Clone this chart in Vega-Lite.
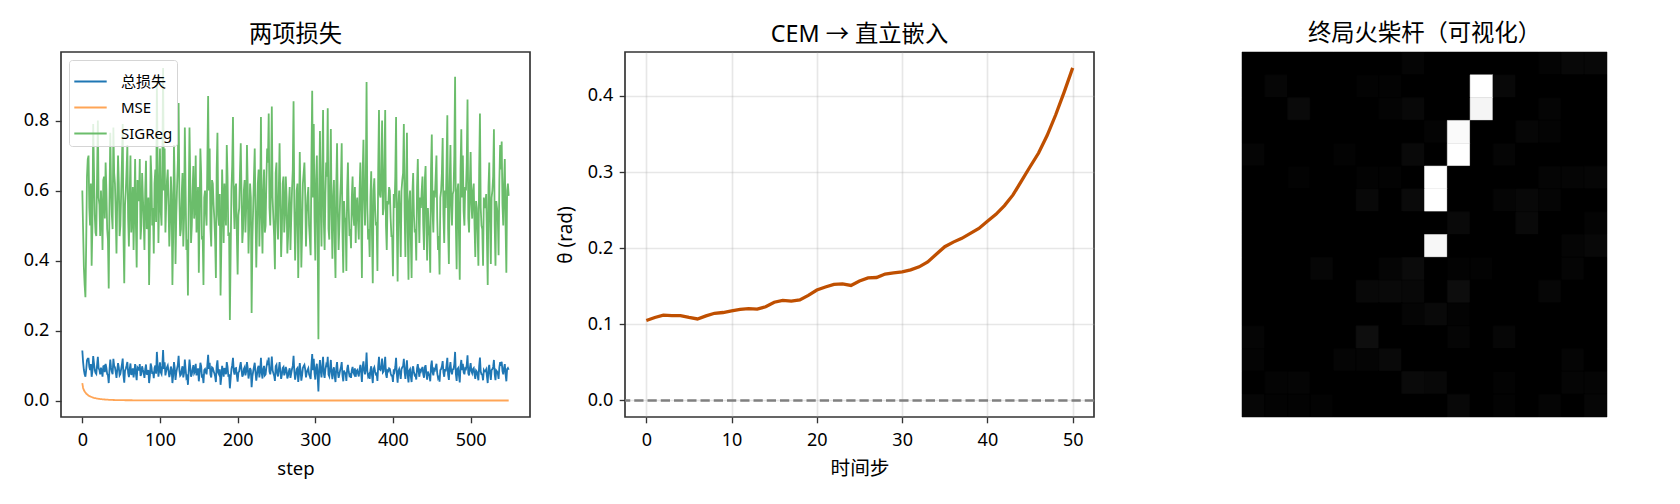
{
"$schema":"https://vega.github.io/schema/vega-lite/v6.json",
"background":"white",
"padding":{"left":22,"top":21,"right":73,"bottom":20},
"config":{
"font":"'Noto Sans','Noto Sans CJK SC',sans-serif",
"view":{"stroke":"#333333","strokeWidth":1.67},
"title":{"fontSize":23.3,"fontWeight":"normal","color":"#000000","offset":5},
"axis":{"grid":false,"domain":false,"labelFontSize":18,"titleFontSize":18.5,"titleFontWeight":"normal","labelColor":"#000000","titleColor":"#000000","tickColor":"#333333","tickSize":5.8,"tickWidth":1.33,"labelPadding":6.5,"labelFlush":false,"labelOverlap":false}
},
"spacing":144,
"hconcat":[
{"bounds":"flush","spacing":95,"hconcat":[
{"width":469,"height":365,"title":"两项损失",
"data":{"values":[
{"step":0,"total":0.143,"mse":0.05,"sig":0.6},{"step":2,"total":0.088,"mse":0.03,"sig":0.38},{"step":4,"total":0.068,"mse":0.023,"sig":0.295},{"step":6,"total":0.115,"mse":0.018,"sig":0.64},{"step":8,"total":0.12,"mse":0.014,"sig":0.7},{"step":10,"total":0.087,"mse":0.012,"sig":0.5},{"step":12,"total":0.068,"mse":0.01,"sig":0.385},{"step":14,"total":0.127,"mse":0.0085,"sig":0.79},{"step":16,"total":0.087,"mse":0.0072,"sig":0.53},{"step":18,"total":0.076,"mse":0.006,"sig":0.47},{"step":20,"total":0.125,"mse":0.0052,"sig":0.8},{"step":22,"total":0.088,"mse":0.0045,"sig":0.56},{"step":24,"total":0.094,"mse":0.004,"sig":0.6},{"step":26,"total":0.068,"mse":0.0036,"sig":0.43},{"step":28,"total":0.099,"mse":0.0032,"sig":0.64},{"step":30,"total":0.105,"mse":0.0028,"sig":0.68},{"step":32,"total":0.076,"mse":0.0025,"sig":0.49},{"step":34,"total":0.05,"mse":0.0022,"sig":0.32},{"step":36,"total":0.117,"mse":0.002,"sig":0.765},{"step":38,"total":0.082,"mse":0.0018,"sig":0.53},{"step":40,"total":0.119,"mse":0.0016,"sig":0.78},{"step":42,"total":0.095,"mse":0.0015,"sig":0.62},{"step":44,"total":0.065,"mse":0.0014,"sig":0.42},{"step":46,"total":0.107,"mse":0.0013,"sig":0.7},{"step":48,"total":0.072,"mse":0.0012,"sig":0.47},{"step":50,"total":0.09,"mse":0.0011,"sig":0.59},{"step":52,"total":0.12,"mse":0.001,"sig":0.79},{"step":54,"total":0.051,"mse":0.001,"sig":0.335},{"step":56,"total":0.091,"mse":0.0009,"sig":0.6},{"step":58,"total":0.11,"mse":0.0009,"sig":0.73},{"step":60,"total":0.067,"mse":0.0008,"sig":0.44},{"step":62,"total":0.106,"mse":0.0008,"sig":0.7},{"step":64,"total":0.079,"mse":0.0008,"sig":0.52},{"step":66,"total":0.066,"mse":0.0007,"sig":0.43},{"step":68,"total":0.104,"mse":0.0007,"sig":0.69},{"step":70,"total":0.058,"mse":0.0007,"sig":0.38},{"step":72,"total":0.092,"mse":0.0006,"sig":0.61},{"step":74,"total":0.104,"mse":0.0006,"sig":0.69},{"step":76,"total":0.076,"mse":0.0006,"sig":0.5},{"step":78,"total":0.088,"mse":0.0006,"sig":0.58},{"step":80,"total":0.065,"mse":0.0005,"sig":0.43},{"step":82,"total":0.103,"mse":0.0005,"sig":0.685},{"step":84,"total":0.079,"mse":0.0005,"sig":0.52},{"step":86,"total":0.05,"mse":0.0005,"sig":0.33},{"step":88,"total":0.106,"mse":0.0005,"sig":0.7},{"step":90,"total":0.076,"mse":0.0005,"sig":0.5},{"step":92,"total":0.064,"mse":0.0004,"sig":0.42},{"step":94,"total":0.1,"mse":0.0004,"sig":0.66},{"step":96,"total":0.139,"mse":0.0004,"sig":0.91},{"step":98,"total":0.068,"mse":0.0004,"sig":0.45},{"step":100,"total":0.109,"mse":0.0004,"sig":0.72},{"step":102,"total":0.076,"mse":0.0004,"sig":0.5},{"step":104,"total":0.144,"mse":0.0004,"sig":0.95},{"step":106,"total":0.109,"mse":0.0003,"sig":0.72},{"step":108,"total":0.085,"mse":0.0003,"sig":0.56},{"step":110,"total":0.1,"mse":0.0003,"sig":0.66},{"step":112,"total":0.067,"mse":0.0003,"sig":0.44},{"step":114,"total":0.097,"mse":0.0003,"sig":0.64},{"step":116,"total":0.05,"mse":0.0003,"sig":0.33},{"step":118,"total":0.11,"mse":0.0003,"sig":0.73},{"step":120,"total":0.059,"mse":0.0003,"sig":0.39},{"step":122,"total":0.092,"mse":0.0003,"sig":0.61},{"step":124,"total":0.128,"mse":0.0003,"sig":0.85},{"step":126,"total":0.071,"mse":0.0003,"sig":0.47},{"step":128,"total":0.089,"mse":0.0003,"sig":0.59},{"step":130,"total":0.066,"mse":0.0003,"sig":0.44},{"step":132,"total":0.117,"mse":0.0003,"sig":0.78},{"step":134,"total":0.065,"mse":0.0003,"sig":0.43},{"step":136,"total":0.045,"mse":0.0003,"sig":0.3},{"step":138,"total":0.117,"mse":0.0003,"sig":0.78},{"step":140,"total":0.068,"mse":0.0002,"sig":0.45},{"step":142,"total":0.09,"mse":0.0002,"sig":0.6},{"step":144,"total":0.078,"mse":0.0002,"sig":0.52},{"step":146,"total":0.105,"mse":0.0002,"sig":0.7},{"step":148,"total":0.083,"mse":0.0002,"sig":0.55},{"step":150,"total":0.055,"mse":0.0002,"sig":0.365},{"step":152,"total":0.108,"mse":0.0002,"sig":0.72},{"step":154,"total":0.069,"mse":0.0002,"sig":0.46},{"step":156,"total":0.05,"mse":0.0002,"sig":0.33},{"step":158,"total":0.09,"mse":0.0002,"sig":0.6},{"step":160,"total":0.075,"mse":0.0002,"sig":0.5},{"step":162,"total":0.131,"mse":0.0002,"sig":0.87},{"step":164,"total":0.108,"mse":0.0002,"sig":0.72},{"step":166,"total":0.066,"mse":0.0002,"sig":0.44},{"step":168,"total":0.093,"mse":0.0002,"sig":0.62},{"step":170,"total":0.078,"mse":0.0002,"sig":0.52},{"step":172,"total":0.053,"mse":0.0002,"sig":0.35},{"step":174,"total":0.115,"mse":0.0002,"sig":0.765},{"step":176,"total":0.075,"mse":0.0002,"sig":0.5},{"step":178,"total":0.045,"mse":0.0002,"sig":0.3},{"step":180,"total":0.099,"mse":0.0002,"sig":0.66},{"step":182,"total":0.068,"mse":0.0002,"sig":0.45},{"step":184,"total":0.084,"mse":0.0002,"sig":0.56},{"step":186,"total":0.11,"mse":0.0002,"sig":0.73},{"step":188,"total":0.071,"mse":0.0002,"sig":0.47},{"step":190,"total":0.035,"mse":0.0002,"sig":0.23},{"step":192,"total":0.09,"mse":0.0002,"sig":0.6},{"step":194,"total":0.122,"mse":0.0002,"sig":0.81},{"step":196,"total":0.074,"mse":0.0002,"sig":0.49},{"step":198,"total":0.093,"mse":0.0002,"sig":0.62},{"step":200,"total":0.054,"mse":0.0002,"sig":0.36},{"step":202,"total":0.083,"mse":0.0002,"sig":0.55},{"step":204,"total":0.11,"mse":0.0002,"sig":0.735},{"step":206,"total":0.068,"mse":0.0002,"sig":0.45},{"step":208,"total":0.09,"mse":0.0002,"sig":0.6},{"step":210,"total":0.072,"mse":0.0002,"sig":0.48},{"step":212,"total":0.11,"mse":0.0002,"sig":0.73},{"step":214,"total":0.063,"mse":0.0002,"sig":0.42},{"step":216,"total":0.093,"mse":0.0002,"sig":0.62},{"step":218,"total":0.038,"mse":0.0002,"sig":0.25},{"step":220,"total":0.083,"mse":0.0002,"sig":0.55},{"step":222,"total":0.108,"mse":0.0002,"sig":0.72},{"step":224,"total":0.057,"mse":0.0002,"sig":0.38},{"step":226,"total":0.093,"mse":0.0002,"sig":0.62},{"step":228,"total":0.066,"mse":0.0002,"sig":0.44},{"step":230,"total":0.122,"mse":0.0002,"sig":0.81},{"step":232,"total":0.063,"mse":0.0002,"sig":0.42},{"step":234,"total":0.099,"mse":0.0002,"sig":0.66},{"step":236,"total":0.075,"mse":0.0002,"sig":0.5},{"step":238,"total":0.108,"mse":0.0002,"sig":0.72},{"step":240,"total":0.123,"mse":0.0002,"sig":0.82},{"step":242,"total":0.075,"mse":0.0002,"sig":0.5},{"step":244,"total":0.126,"mse":0.0002,"sig":0.84},{"step":246,"total":0.078,"mse":0.0002,"sig":0.52},{"step":248,"total":0.056,"mse":0.0002,"sig":0.375},{"step":250,"total":0.102,"mse":0.0002,"sig":0.68},{"step":252,"total":0.069,"mse":0.0002,"sig":0.46},{"step":254,"total":0.11,"mse":0.0002,"sig":0.735},{"step":256,"total":0.062,"mse":0.0002,"sig":0.41},{"step":258,"total":0.093,"mse":0.0002,"sig":0.62},{"step":260,"total":0.072,"mse":0.0002,"sig":0.48},{"step":262,"total":0.096,"mse":0.0002,"sig":0.64},{"step":264,"total":0.063,"mse":0.0002,"sig":0.42},{"step":266,"total":0.084,"mse":0.0002,"sig":0.56},{"step":268,"total":0.065,"mse":0.0002,"sig":0.43},{"step":270,"total":0.09,"mse":0.0002,"sig":0.6},{"step":272,"total":0.128,"mse":0.0002,"sig":0.855},{"step":274,"total":0.06,"mse":0.0002,"sig":0.4},{"step":276,"total":0.09,"mse":0.0002,"sig":0.6},{"step":278,"total":0.053,"mse":0.0002,"sig":0.35},{"step":280,"total":0.107,"mse":0.0002,"sig":0.71},{"step":282,"total":0.057,"mse":0.0002,"sig":0.38},{"step":284,"total":0.093,"mse":0.0002,"sig":0.62},{"step":286,"total":0.102,"mse":0.0002,"sig":0.68},{"step":288,"total":0.066,"mse":0.0002,"sig":0.44},{"step":290,"total":0.087,"mse":0.0002,"sig":0.58},{"step":292,"total":0.075,"mse":0.0002,"sig":0.5},{"step":294,"total":0.062,"mse":0.0002,"sig":0.415},{"step":296,"total":0.133,"mse":0.0002,"sig":0.885},{"step":298,"total":0.119,"mse":0.0002,"sig":0.79},{"step":300,"total":0.06,"mse":0.0002,"sig":0.4},{"step":302,"total":0.105,"mse":0.0002,"sig":0.7},{"step":304,"total":0.026,"mse":0.0002,"sig":0.175},{"step":306,"total":0.116,"mse":0.0002,"sig":0.77},{"step":308,"total":0.066,"mse":0.0002,"sig":0.44},{"step":310,"total":0.125,"mse":0.0002,"sig":0.83},{"step":312,"total":0.065,"mse":0.0002,"sig":0.43},{"step":314,"total":0.102,"mse":0.0002,"sig":0.68},{"step":316,"total":0.125,"mse":0.0002,"sig":0.835},{"step":318,"total":0.069,"mse":0.0002,"sig":0.46},{"step":320,"total":0.116,"mse":0.0002,"sig":0.776},{"step":322,"total":0.061,"mse":0.0002,"sig":0.405},{"step":324,"total":0.095,"mse":0.0002,"sig":0.63},{"step":326,"total":0.053,"mse":0.0002,"sig":0.35},{"step":328,"total":0.11,"mse":0.0002,"sig":0.735},{"step":330,"total":0.065,"mse":0.0002,"sig":0.43},{"step":332,"total":0.087,"mse":0.0002,"sig":0.58},{"step":334,"total":0.11,"mse":0.0002,"sig":0.735},{"step":336,"total":0.055,"mse":0.0002,"sig":0.365},{"step":338,"total":0.078,"mse":0.0002,"sig":0.52},{"step":340,"total":0.056,"mse":0.0002,"sig":0.37},{"step":342,"total":0.102,"mse":0.0002,"sig":0.68},{"step":344,"total":0.071,"mse":0.0002,"sig":0.47},{"step":346,"total":0.065,"mse":0.0002,"sig":0.435},{"step":348,"total":0.096,"mse":0.0002,"sig":0.64},{"step":350,"total":0.075,"mse":0.0002,"sig":0.5},{"step":352,"total":0.068,"mse":0.0002,"sig":0.45},{"step":354,"total":0.087,"mse":0.0002,"sig":0.58},{"step":356,"total":0.069,"mse":0.0002,"sig":0.46},{"step":358,"total":0.102,"mse":0.0002,"sig":0.68},{"step":360,"total":0.053,"mse":0.0002,"sig":0.35},{"step":362,"total":0.112,"mse":0.0002,"sig":0.745},{"step":364,"total":0.075,"mse":0.0002,"sig":0.5},{"step":366,"total":0.137,"mse":0.0002,"sig":0.91},{"step":368,"total":0.069,"mse":0.0002,"sig":0.46},{"step":370,"total":0.062,"mse":0.0002,"sig":0.41},{"step":372,"total":0.098,"mse":0.0002,"sig":0.655},{"step":374,"total":0.05,"mse":0.0002,"sig":0.335},{"step":376,"total":0.095,"mse":0.0002,"sig":0.635},{"step":378,"total":0.075,"mse":0.0002,"sig":0.5},{"step":380,"total":0.056,"mse":0.0002,"sig":0.37},{"step":382,"total":0.125,"mse":0.0002,"sig":0.83},{"step":384,"total":0.087,"mse":0.0002,"sig":0.58},{"step":386,"total":0.12,"mse":0.0002,"sig":0.8},{"step":388,"total":0.083,"mse":0.0002,"sig":0.55},{"step":390,"total":0.125,"mse":0.0002,"sig":0.83},{"step":392,"total":0.065,"mse":0.0002,"sig":0.43},{"step":394,"total":0.084,"mse":0.0002,"sig":0.56},{"step":396,"total":0.09,"mse":0.0002,"sig":0.6},{"step":398,"total":0.071,"mse":0.0002,"sig":0.47},{"step":400,"total":0.053,"mse":0.0002,"sig":0.355},{"step":402,"total":0.083,"mse":0.0002,"sig":0.55},{"step":404,"total":0.122,"mse":0.0002,"sig":0.81},{"step":406,"total":0.051,"mse":0.0002,"sig":0.34},{"step":408,"total":0.09,"mse":0.0002,"sig":0.6},{"step":410,"total":0.062,"mse":0.0002,"sig":0.41},{"step":412,"total":0.095,"mse":0.0002,"sig":0.63},{"step":414,"total":0.119,"mse":0.0002,"sig":0.79},{"step":416,"total":0.062,"mse":0.0002,"sig":0.41},{"step":418,"total":0.115,"mse":0.0002,"sig":0.765},{"step":420,"total":0.052,"mse":0.0002,"sig":0.345},{"step":422,"total":0.09,"mse":0.0002,"sig":0.6},{"step":424,"total":0.053,"mse":0.0002,"sig":0.35},{"step":426,"total":0.098,"mse":0.0002,"sig":0.65},{"step":428,"total":0.072,"mse":0.0002,"sig":0.48},{"step":430,"total":0.06,"mse":0.0002,"sig":0.4},{"step":432,"total":0.104,"mse":0.0002,"sig":0.69},{"step":434,"total":0.068,"mse":0.0002,"sig":0.45},{"step":436,"total":0.083,"mse":0.0002,"sig":0.55},{"step":438,"total":0.096,"mse":0.0002,"sig":0.64},{"step":440,"total":0.065,"mse":0.0002,"sig":0.43},{"step":442,"total":0.101,"mse":0.0002,"sig":0.67},{"step":444,"total":0.06,"mse":0.0002,"sig":0.4},{"step":446,"total":0.075,"mse":0.0002,"sig":0.5},{"step":448,"total":0.055,"mse":0.0002,"sig":0.365},{"step":450,"total":0.114,"mse":0.0002,"sig":0.76},{"step":452,"total":0.072,"mse":0.0002,"sig":0.48},{"step":454,"total":0.087,"mse":0.0002,"sig":0.58},{"step":456,"total":0.105,"mse":0.0002,"sig":0.7},{"step":458,"total":0.065,"mse":0.0002,"sig":0.43},{"step":460,"total":0.054,"mse":0.0002,"sig":0.36},{"step":462,"total":0.09,"mse":0.0002,"sig":0.6},{"step":464,"total":0.113,"mse":0.0002,"sig":0.75},{"step":466,"total":0.068,"mse":0.0002,"sig":0.45},{"step":468,"total":0.083,"mse":0.0002,"sig":0.55},{"step":470,"total":0.122,"mse":0.0002,"sig":0.815},{"step":472,"total":0.059,"mse":0.0002,"sig":0.39},{"step":474,"total":0.11,"mse":0.0002,"sig":0.73},{"step":476,"total":0.075,"mse":0.0002,"sig":0.5},{"step":478,"total":0.09,"mse":0.0002,"sig":0.6},{"step":480,"total":0.139,"mse":0.0002,"sig":0.925},{"step":482,"total":0.056,"mse":0.0002,"sig":0.375},{"step":484,"total":0.093,"mse":0.0002,"sig":0.62},{"step":486,"total":0.052,"mse":0.0002,"sig":0.345},{"step":488,"total":0.116,"mse":0.0002,"sig":0.775},{"step":490,"total":0.105,"mse":0.0002,"sig":0.7},{"step":492,"total":0.075,"mse":0.0002,"sig":0.5},{"step":494,"total":0.09,"mse":0.0002,"sig":0.6},{"step":496,"total":0.129,"mse":0.0002,"sig":0.86},{"step":498,"total":0.072,"mse":0.0002,"sig":0.48},{"step":500,"total":0.107,"mse":0.0002,"sig":0.71},{"step":502,"total":0.078,"mse":0.0002,"sig":0.52},{"step":504,"total":0.093,"mse":0.0002,"sig":0.62},{"step":506,"total":0.062,"mse":0.0002,"sig":0.41},{"step":508,"total":0.083,"mse":0.0002,"sig":0.55},{"step":510,"total":0.058,"mse":0.0002,"sig":0.385},{"step":512,"total":0.123,"mse":0.0002,"sig":0.82},{"step":514,"total":0.075,"mse":0.0002,"sig":0.5},{"step":516,"total":0.058,"mse":0.0002,"sig":0.385},{"step":518,"total":0.083,"mse":0.0002,"sig":0.55},{"step":520,"total":0.089,"mse":0.0002,"sig":0.59},{"step":522,"total":0.05,"mse":0.0002,"sig":0.33},{"step":524,"total":0.102,"mse":0.0002,"sig":0.68},{"step":526,"total":0.059,"mse":0.0002,"sig":0.39},{"step":528,"total":0.09,"mse":0.0002,"sig":0.6},{"step":530,"total":0.116,"mse":0.0002,"sig":0.775},{"step":532,"total":0.058,"mse":0.0002,"sig":0.385},{"step":534,"total":0.083,"mse":0.0002,"sig":0.55},{"step":536,"total":0.062,"mse":0.0002,"sig":0.415},{"step":538,"total":0.11,"mse":0.0002,"sig":0.73},{"step":540,"total":0.111,"mse":0.0002,"sig":0.74},{"step":542,"total":0.075,"mse":0.0002,"sig":0.5},{"step":544,"total":0.104,"mse":0.0002,"sig":0.69},{"step":546,"total":0.055,"mse":0.0002,"sig":0.365},{"step":548,"total":0.093,"mse":0.0002,"sig":0.62},{"step":549,"total":0.088,"mse":0.0002,"sig":0.585},
{"step":1,"total":0.11,"mse":0.036,"sig":0.49},{"step":3,"total":0.075,"mse":0.026,"sig":0.33},{"step":5,"total":0.088,"mse":0.02,"sig":0.45},{"step":7,"total":0.12,"mse":0.016,"sig":0.69},{"step":9,"total":0.096,"mse":0.013,"sig":0.55},{"step":11,"total":0.104,"mse":0.011,"sig":0.62},{"step":13,"total":0.084,"mse":0.009,"sig":0.5},{"step":15,"total":0.107,"mse":0.0078,"sig":0.66},{"step":17,"total":0.079,"mse":0.0066,"sig":0.48},{"step":19,"total":0.102,"mse":0.0056,"sig":0.64},{"step":21,"total":0.092,"mse":0.0048,"sig":0.58},{"step":23,"total":0.075,"mse":0.0042,"sig":0.47},{"step":25,"total":0.085,"mse":0.0038,"sig":0.54},{"step":27,"total":0.098,"mse":0.0034,"sig":0.63},{"step":29,"total":0.081,"mse":0.003,"sig":0.52},{"step":31,"total":0.093,"mse":0.0026,"sig":0.6},{"step":33,"total":0.072,"mse":0.0024,"sig":0.46},{"step":35,"total":0.088,"mse":0.0021,"sig":0.57},{"step":37,"total":0.094,"mse":0.0019,"sig":0.61},{"step":39,"total":0.075,"mse":0.0017,"sig":0.49},{"step":41,"total":0.099,"mse":0.0016,"sig":0.65},{"step":43,"total":0.081,"mse":0.0014,"sig":0.53},{"step":45,"total":0.088,"mse":0.0013,"sig":0.58},{"step":47,"total":0.094,"mse":0.0012,"sig":0.62},{"step":49,"total":0.076,"mse":0.0012,"sig":0.5},{"step":51,"total":0.103,"mse":0.001,"sig":0.68},{"step":53,"total":0.071,"mse":0.001,"sig":0.47},{"step":55,"total":0.085,"mse":0.0009,"sig":0.56},{"step":57,"total":0.1,"mse":0.0009,"sig":0.66},{"step":59,"total":0.079,"mse":0.0008,"sig":0.52},{"step":61,"total":0.089,"mse":0.0008,"sig":0.59},{"step":63,"total":0.073,"mse":0.0008,"sig":0.48},{"step":65,"total":0.092,"mse":0.0007,"sig":0.61},{"step":67,"total":0.083,"mse":0.0007,"sig":0.55},{"step":69,"total":0.076,"mse":0.0007,"sig":0.5},{"step":71,"total":0.095,"mse":0.0006,"sig":0.63},{"step":73,"total":0.086,"mse":0.0006,"sig":0.57},{"step":75,"total":0.07,"mse":0.0006,"sig":0.46},{"step":77,"total":0.098,"mse":0.0006,"sig":0.65},{"step":79,"total":0.079,"mse":0.0005,"sig":0.52},{"step":81,"total":0.09,"mse":0.0005,"sig":0.6},{"step":83,"total":0.074,"mse":0.0005,"sig":0.49},{"step":85,"total":0.087,"mse":0.0005,"sig":0.58},{"step":87,"total":0.071,"mse":0.0005,"sig":0.47},{"step":89,"total":0.096,"mse":0.0005,"sig":0.64},{"step":91,"total":0.083,"mse":0.0004,"sig":0.55},{"step":93,"total":0.093,"mse":0.0004,"sig":0.62},{"step":95,"total":0.077,"mse":0.0004,"sig":0.51},{"step":97,"total":0.101,"mse":0.0004,"sig":0.67},{"step":99,"total":0.087,"mse":0.0004,"sig":0.58},
{"step":101,"total":0.081,"mse":0.0004,"sig":0.54},{"step":103,"total":0.099,"mse":0.0004,"sig":0.66},{"step":105,"total":0.09,"mse":0.0003,"sig":0.6},{"step":107,"total":0.072,"mse":0.0003,"sig":0.48},{"step":109,"total":0.095,"mse":0.0003,"sig":0.63},{"step":111,"total":0.084,"mse":0.0003,"sig":0.56},{"step":113,"total":0.077,"mse":0.0003,"sig":0.51},{"step":115,"total":0.089,"mse":0.0003,"sig":0.59},{"step":117,"total":0.071,"mse":0.0003,"sig":0.47},{"step":119,"total":0.093,"mse":0.0003,"sig":0.62},{"step":121,"total":0.08,"mse":0.0003,"sig":0.53},{"step":123,"total":0.102,"mse":0.0003,"sig":0.68},{"step":125,"total":0.087,"mse":0.0003,"sig":0.58},{"step":127,"total":0.074,"mse":0.0003,"sig":0.49},{"step":129,"total":0.098,"mse":0.0003,"sig":0.65},{"step":131,"total":0.078,"mse":0.0003,"sig":0.52},{"step":133,"total":0.09,"mse":0.0003,"sig":0.6},{"step":135,"total":0.069,"mse":0.0003,"sig":0.46},{"step":137,"total":0.086,"mse":0.0003,"sig":0.57},{"step":139,"total":0.095,"mse":0.0002,"sig":0.63},{"step":141,"total":0.075,"mse":0.0002,"sig":0.5},{"step":143,"total":0.101,"mse":0.0002,"sig":0.67},{"step":145,"total":0.083,"mse":0.0002,"sig":0.55},{"step":147,"total":0.072,"mse":0.0002,"sig":0.48},{"step":149,"total":0.092,"mse":0.0002,"sig":0.61},{"step":151,"total":0.078,"mse":0.0002,"sig":0.52},{"step":153,"total":0.098,"mse":0.0002,"sig":0.65},{"step":155,"total":0.071,"mse":0.0002,"sig":0.47},{"step":157,"total":0.087,"mse":0.0002,"sig":0.58},{"step":159,"total":0.081,"mse":0.0002,"sig":0.54},{"step":161,"total":0.102,"mse":0.0002,"sig":0.68},{"step":163,"total":0.09,"mse":0.0002,"sig":0.6},{"step":165,"total":0.074,"mse":0.0002,"sig":0.49},{"step":167,"total":0.095,"mse":0.0002,"sig":0.63},{"step":169,"total":0.084,"mse":0.0002,"sig":0.56},{"step":171,"total":0.069,"mse":0.0002,"sig":0.46},{"step":173,"total":0.099,"mse":0.0002,"sig":0.66},{"step":175,"total":0.08,"mse":0.0002,"sig":0.53},{"step":177,"total":0.089,"mse":0.0002,"sig":0.59},{"step":179,"total":0.066,"mse":0.0002,"sig":0.44},{"step":181,"total":0.086,"mse":0.0002,"sig":0.57},{"step":183,"total":0.093,"mse":0.0002,"sig":0.62},{"step":185,"total":0.075,"mse":0.0002,"sig":0.5},{"step":187,"total":0.096,"mse":0.0002,"sig":0.64},{"step":189,"total":0.072,"mse":0.0002,"sig":0.48},{"step":191,"total":0.063,"mse":0.0002,"sig":0.42},{"step":193,"total":0.101,"mse":0.0002,"sig":0.67},{"step":195,"total":0.084,"mse":0.0002,"sig":0.56},{"step":197,"total":0.092,"mse":0.0002,"sig":0.61},{"step":199,"total":0.071,"mse":0.0002,"sig":0.47},
{"step":201,"total":0.08,"mse":0.0002,"sig":0.53},{"step":203,"total":0.098,"mse":0.0002,"sig":0.65},{"step":205,"total":0.089,"mse":0.0002,"sig":0.59},{"step":207,"total":0.074,"mse":0.0002,"sig":0.49},{"step":209,"total":0.095,"mse":0.0002,"sig":0.63},{"step":211,"total":0.083,"mse":0.0002,"sig":0.55},{"step":213,"total":0.092,"mse":0.0002,"sig":0.61},{"step":215,"total":0.077,"mse":0.0002,"sig":0.51},{"step":217,"total":0.087,"mse":0.0002,"sig":0.58},{"step":219,"total":0.069,"mse":0.0002,"sig":0.46},{"step":221,"total":0.096,"mse":0.0002,"sig":0.64},{"step":223,"total":0.081,"mse":0.0002,"sig":0.54},{"step":225,"total":0.075,"mse":0.0002,"sig":0.5},{"step":227,"total":0.099,"mse":0.0002,"sig":0.66},{"step":229,"total":0.086,"mse":0.0002,"sig":0.57},{"step":231,"total":0.078,"mse":0.0002,"sig":0.52},{"step":233,"total":0.09,"mse":0.0002,"sig":0.6},{"step":235,"total":0.072,"mse":0.0002,"sig":0.48},{"step":237,"total":0.095,"mse":0.0002,"sig":0.63},{"step":239,"total":0.102,"mse":0.0002,"sig":0.68},{"step":241,"total":0.083,"mse":0.0002,"sig":0.55},{"step":243,"total":0.093,"mse":0.0002,"sig":0.62},{"step":245,"total":0.087,"mse":0.0002,"sig":0.58},{"step":247,"total":0.071,"mse":0.0002,"sig":0.47},{"step":249,"total":0.098,"mse":0.0002,"sig":0.65},{"step":251,"total":0.077,"mse":0.0002,"sig":0.51},{"step":253,"total":0.09,"mse":0.0002,"sig":0.6},{"step":255,"total":0.084,"mse":0.0002,"sig":0.56},{"step":257,"total":0.074,"mse":0.0002,"sig":0.49},{"step":259,"total":0.096,"mse":0.0002,"sig":0.64},{"step":261,"total":0.08,"mse":0.0002,"sig":0.53},{"step":263,"total":0.087,"mse":0.0002,"sig":0.58},{"step":265,"total":0.071,"mse":0.0002,"sig":0.47},{"step":267,"total":0.092,"mse":0.0002,"sig":0.61},{"step":269,"total":0.078,"mse":0.0002,"sig":0.52},{"step":271,"total":0.099,"mse":0.0002,"sig":0.66},{"step":273,"total":0.083,"mse":0.0002,"sig":0.55},{"step":275,"total":0.074,"mse":0.0002,"sig":0.49},{"step":277,"total":0.093,"mse":0.0002,"sig":0.62},{"step":279,"total":0.075,"mse":0.0002,"sig":0.5},{"step":281,"total":0.086,"mse":0.0002,"sig":0.57},{"step":283,"total":0.072,"mse":0.0002,"sig":0.48},{"step":285,"total":0.098,"mse":0.0002,"sig":0.65},{"step":287,"total":0.089,"mse":0.0002,"sig":0.59},{"step":289,"total":0.08,"mse":0.0002,"sig":0.53},{"step":291,"total":0.092,"mse":0.0002,"sig":0.61},{"step":293,"total":0.069,"mse":0.0002,"sig":0.46},{"step":295,"total":0.102,"mse":0.0002,"sig":0.68},{"step":297,"total":0.087,"mse":0.0002,"sig":0.58},{"step":299,"total":0.078,"mse":0.0002,"sig":0.52},
{"step":301,"total":0.095,"mse":0.0002,"sig":0.63},{"step":303,"total":0.071,"mse":0.0002,"sig":0.47},{"step":305,"total":0.09,"mse":0.0002,"sig":0.6},{"step":307,"total":0.083,"mse":0.0002,"sig":0.55},{"step":309,"total":0.099,"mse":0.0002,"sig":0.66},{"step":311,"total":0.077,"mse":0.0002,"sig":0.51},{"step":313,"total":0.089,"mse":0.0002,"sig":0.59},{"step":315,"total":0.096,"mse":0.0002,"sig":0.64},{"step":317,"total":0.074,"mse":0.0002,"sig":0.49},{"step":319,"total":0.093,"mse":0.0002,"sig":0.62},{"step":321,"total":0.08,"mse":0.0002,"sig":0.53},{"step":323,"total":0.087,"mse":0.0002,"sig":0.58},{"step":325,"total":0.068,"mse":0.0002,"sig":0.45},{"step":327,"total":0.092,"mse":0.0002,"sig":0.61},{"step":329,"total":0.081,"mse":0.0002,"sig":0.54},{"step":331,"total":0.075,"mse":0.0002,"sig":0.5},{"step":333,"total":0.095,"mse":0.0002,"sig":0.63},{"step":335,"total":0.072,"mse":0.0002,"sig":0.48},{"step":337,"total":0.086,"mse":0.0002,"sig":0.57},{"step":339,"total":0.078,"mse":0.0002,"sig":0.52},{"step":341,"total":0.09,"mse":0.0002,"sig":0.6},{"step":343,"total":0.083,"mse":0.0002,"sig":0.55},{"step":345,"total":0.074,"mse":0.0002,"sig":0.49},{"step":347,"total":0.087,"mse":0.0002,"sig":0.58},{"step":349,"total":0.08,"mse":0.0002,"sig":0.53},{"step":351,"total":0.092,"mse":0.0002,"sig":0.61},{"step":353,"total":0.084,"mse":0.0002,"sig":0.56},{"step":355,"total":0.077,"mse":0.0002,"sig":0.51},{"step":357,"total":0.09,"mse":0.0002,"sig":0.6},{"step":359,"total":0.081,"mse":0.0002,"sig":0.54},{"step":361,"total":0.098,"mse":0.0002,"sig":0.65},{"step":363,"total":0.087,"mse":0.0002,"sig":0.58},{"step":365,"total":0.093,"mse":0.0002,"sig":0.62},{"step":367,"total":0.083,"mse":0.0002,"sig":0.55},{"step":369,"total":0.074,"mse":0.0002,"sig":0.49},{"step":371,"total":0.087,"mse":0.0002,"sig":0.58},{"step":373,"total":0.071,"mse":0.0002,"sig":0.47},{"step":375,"total":0.09,"mse":0.0002,"sig":0.6},{"step":377,"total":0.083,"mse":0.0002,"sig":0.55},{"step":379,"total":0.077,"mse":0.0002,"sig":0.51},{"step":381,"total":0.099,"mse":0.0002,"sig":0.66},{"step":383,"total":0.089,"mse":0.0002,"sig":0.59},{"step":385,"total":0.095,"mse":0.0002,"sig":0.63},{"step":387,"total":0.08,"mse":0.0002,"sig":0.53},{"step":389,"total":0.102,"mse":0.0002,"sig":0.68},{"step":391,"total":0.075,"mse":0.0002,"sig":0.5},{"step":393,"total":0.086,"mse":0.0002,"sig":0.57},{"step":395,"total":0.092,"mse":0.0002,"sig":0.61},{"step":397,"total":0.078,"mse":0.0002,"sig":0.52},{"step":399,"total":0.071,"mse":0.0002,"sig":0.47},
{"step":401,"total":0.089,"mse":0.0002,"sig":0.59},{"step":403,"total":0.096,"mse":0.0002,"sig":0.64},{"step":405,"total":0.075,"mse":0.0002,"sig":0.5},{"step":407,"total":0.084,"mse":0.0002,"sig":0.56},{"step":409,"total":0.078,"mse":0.0002,"sig":0.52},{"step":411,"total":0.09,"mse":0.0002,"sig":0.6},{"step":413,"total":0.098,"mse":0.0002,"sig":0.65},{"step":415,"total":0.081,"mse":0.0002,"sig":0.54},{"step":417,"total":0.093,"mse":0.0002,"sig":0.62},{"step":419,"total":0.072,"mse":0.0002,"sig":0.48},{"step":421,"total":0.086,"mse":0.0002,"sig":0.57},{"step":423,"total":0.069,"mse":0.0002,"sig":0.46},{"step":425,"total":0.089,"mse":0.0002,"sig":0.59},{"step":427,"total":0.08,"mse":0.0002,"sig":0.53},{"step":429,"total":0.074,"mse":0.0002,"sig":0.49},{"step":431,"total":0.092,"mse":0.0002,"sig":0.61},{"step":433,"total":0.083,"mse":0.0002,"sig":0.55},{"step":435,"total":0.087,"mse":0.0002,"sig":0.58},{"step":437,"total":0.09,"mse":0.0002,"sig":0.6},{"step":439,"total":0.075,"mse":0.0002,"sig":0.5},{"step":441,"total":0.095,"mse":0.0002,"sig":0.63},{"step":443,"total":0.077,"mse":0.0002,"sig":0.51},{"step":445,"total":0.083,"mse":0.0002,"sig":0.55},{"step":447,"total":0.071,"mse":0.0002,"sig":0.47},{"step":449,"total":0.099,"mse":0.0002,"sig":0.66},{"step":451,"total":0.081,"mse":0.0002,"sig":0.54},{"step":453,"total":0.09,"mse":0.0002,"sig":0.6},{"step":455,"total":0.096,"mse":0.0002,"sig":0.64},{"step":457,"total":0.078,"mse":0.0002,"sig":0.52},{"step":459,"total":0.071,"mse":0.0002,"sig":0.47},{"step":461,"total":0.087,"mse":0.0002,"sig":0.58},{"step":463,"total":0.098,"mse":0.0002,"sig":0.65},{"step":465,"total":0.08,"mse":0.0002,"sig":0.53},{"step":467,"total":0.09,"mse":0.0002,"sig":0.6},{"step":469,"total":0.101,"mse":0.0002,"sig":0.67},{"step":471,"total":0.074,"mse":0.0002,"sig":0.49},{"step":473,"total":0.093,"mse":0.0002,"sig":0.62},{"step":475,"total":0.084,"mse":0.0002,"sig":0.56},{"step":477,"total":0.089,"mse":0.0002,"sig":0.59},{"step":479,"total":0.105,"mse":0.0002,"sig":0.7},{"step":481,"total":0.075,"mse":0.0002,"sig":0.5},{"step":483,"total":0.09,"mse":0.0002,"sig":0.6},{"step":485,"total":0.071,"mse":0.0002,"sig":0.47},{"step":487,"total":0.099,"mse":0.0002,"sig":0.66},{"step":489,"total":0.087,"mse":0.0002,"sig":0.58},{"step":491,"total":0.081,"mse":0.0002,"sig":0.54},{"step":493,"total":0.092,"mse":0.0002,"sig":0.61},{"step":495,"total":0.102,"mse":0.0002,"sig":0.68},{"step":497,"total":0.078,"mse":0.0002,"sig":0.52},{"step":499,"total":0.093,"mse":0.0002,"sig":0.62},
{"step":501,"total":0.084,"mse":0.0002,"sig":0.56},{"step":503,"total":0.09,"mse":0.0002,"sig":0.6},{"step":505,"total":0.075,"mse":0.0002,"sig":0.5},{"step":507,"total":0.086,"mse":0.0002,"sig":0.57},{"step":509,"total":0.072,"mse":0.0002,"sig":0.48},{"step":511,"total":0.099,"mse":0.0002,"sig":0.66},{"step":513,"total":0.083,"mse":0.0002,"sig":0.55},{"step":515,"total":0.074,"mse":0.0002,"sig":0.49},{"step":517,"total":0.087,"mse":0.0002,"sig":0.58},{"step":519,"total":0.084,"mse":0.0002,"sig":0.56},{"step":521,"total":0.069,"mse":0.0002,"sig":0.46},{"step":523,"total":0.092,"mse":0.0002,"sig":0.61},{"step":525,"total":0.077,"mse":0.0002,"sig":0.51},{"step":527,"total":0.087,"mse":0.0002,"sig":0.58},{"step":529,"total":0.096,"mse":0.0002,"sig":0.64},{"step":531,"total":0.075,"mse":0.0002,"sig":0.5},{"step":533,"total":0.086,"mse":0.0002,"sig":0.57},{"step":535,"total":0.078,"mse":0.0002,"sig":0.52},{"step":537,"total":0.095,"mse":0.0002,"sig":0.63},{"step":539,"total":0.099,"mse":0.0002,"sig":0.66},{"step":541,"total":0.084,"mse":0.0002,"sig":0.56},{"step":543,"total":0.093,"mse":0.0002,"sig":0.62},{"step":545,"total":0.075,"mse":0.0002,"sig":0.5},{"step":547,"total":0.09,"mse":0.0002,"sig":0.6}
]},
"layer":[
{"mark":{"type":"line","strokeWidth":1.8,"interpolate":"linear"},"encoding":{"y":{"field":"total","type":"quantitative"},"color":{"datum":"总损失"}}},
{"mark":{"type":"line","strokeWidth":1.8,"interpolate":"linear"},"encoding":{"y":{"field":"mse","type":"quantitative"},"color":{"datum":"MSE"}}},
{"mark":{"type":"line","strokeWidth":1.8,"interpolate":"linear"},"encoding":{"y":{"field":"sig","type":"quantitative"},"color":{"datum":"SIGReg"}}}
],
"encoding":{
"x":{"field":"step","type":"quantitative","scale":{"domain":[-27.45,576.45],"nice":false,"zero":false},"axis":{"title":"step","values":[0,100,200,300,400,500],"labelPadding":9,"titlePadding":10}},
"y":{"type":"quantitative","scale":{"domain":[-0.047,0.996],"nice":false,"zero":false},"axis":{"title":null,"values":[0,0.2,0.4,0.6,0.8],"format":".1f"}},
"color":{"type":"nominal","scale":{"domain":["总损失","MSE","SIGReg"],"range":["#1f77b4","#ffa556","#6bbd6b"]},"legend":{"title":null,"orient":"none","legendX":8,"legendY":8,"fillColor":"rgba(255,255,255,0.8)","strokeColor":"#d5d5d5","cornerRadius":3,"padding":4,"symbolType":"stroke","symbolSize":1050,"symbolStrokeWidth":2,"labelFontSize":15,"labelColor":"#000000","labelOffset":13,"rowPadding":0}}
}
},
{"width":469,"height":365,"title":"CEM → 直立嵌入",
"data":{"values":[
{"t":0,"theta":0.105},{"t":1,"theta":0.109},{"t":2,"theta":0.112},{"t":3,"theta":0.1115},{"t":4,"theta":0.1115},{"t":5,"theta":0.109},{"t":6,"theta":0.107},{"t":7,"theta":0.111},{"t":8,"theta":0.1145},{"t":9,"theta":0.1155},{"t":10,"theta":0.1175},{"t":11,"theta":0.1195},{"t":12,"theta":0.1205},{"t":13,"theta":0.12},{"t":14,"theta":0.123},{"t":15,"theta":0.129},{"t":16,"theta":0.1315},{"t":17,"theta":0.1305},{"t":18,"theta":0.132},{"t":19,"theta":0.138},{"t":20,"theta":0.145},{"t":21,"theta":0.149},{"t":22,"theta":0.1525},{"t":23,"theta":0.153},{"t":24,"theta":0.151},{"t":25,"theta":0.157},{"t":26,"theta":0.161},{"t":27,"theta":0.1615},{"t":28,"theta":0.166},{"t":29,"theta":0.1675},{"t":30,"theta":0.169},{"t":31,"theta":0.1715},{"t":32,"theta":0.1755},{"t":33,"theta":0.182},{"t":34,"theta":0.192},{"t":35,"theta":0.202},{"t":36,"theta":0.208},{"t":37,"theta":0.213},{"t":38,"theta":0.2195},{"t":39,"theta":0.226},{"t":40,"theta":0.2355},{"t":41,"theta":0.2445},{"t":42,"theta":0.256},{"t":43,"theta":0.27},{"t":44,"theta":0.2885},{"t":45,"theta":0.307},{"t":46,"theta":0.325},{"t":47,"theta":0.348},{"t":48,"theta":0.375},{"t":49,"theta":0.405},{"t":50,"theta":0.437}
]},
"layer":[
{"mark":{"type":"line","color":"#bf4f00","strokeWidth":3.3},"encoding":{
"x":{"field":"t","type":"quantitative","scale":{"domain":[-2.5,52.5],"nice":false,"zero":false},"axis":{"title":"时间步","titleFontSize":19.7,"values":[0,10,20,30,40,50],"grid":true,"gridColor":"#b0b0b0","gridOpacity":0.3,"gridWidth":1.67,"labelPadding":9,"titlePadding":9}},
"y":{"field":"theta","type":"quantitative","scale":{"domain":[-0.0218,0.4578],"nice":false,"zero":false},"axis":{"title":"θ (rad)","titleFontSize":19,"values":[0,0.1,0.2,0.3,0.4],"format":".1f","grid":true,"gridColor":"#b0b0b0","gridOpacity":0.3,"gridWidth":1.67,"titlePadding":12}}
}},
{"data":{"values":[{"zero":0}]},"mark":{"type":"rule","color":"#808080","strokeWidth":2.5,"strokeDash":[9.25,4]},"encoding":{"y":{"field":"zero","type":"quantitative"}}}
]
}
]},
{"width":365,"height":365,"title":"终局火柴杆（可视化）",
"view":{"stroke":null,"fill":"#000000"},
"data":{"values":[
{"c":0,"r":0,"v":0},{"c":1,"r":0,"v":0},{"c":2,"r":0,"v":0},{"c":3,"r":0,"v":0},{"c":4,"r":0,"v":0},{"c":5,"r":0,"v":0},{"c":6,"r":0,"v":0},{"c":7,"r":0,"v":0.02},{"c":8,"r":0,"v":0},{"c":9,"r":0,"v":0},{"c":10,"r":0,"v":0},{"c":11,"r":0,"v":0},{"c":12,"r":0,"v":0},{"c":13,"r":0,"v":0.015},{"c":14,"r":0,"v":0.03},{"c":15,"r":0,"v":0.03},
{"c":0,"r":1,"v":0},{"c":1,"r":1,"v":0.025},{"c":2,"r":1,"v":0},{"c":3,"r":1,"v":0},{"c":4,"r":1,"v":0},{"c":5,"r":1,"v":0.01},{"c":6,"r":1,"v":0.01},{"c":7,"r":1,"v":0},{"c":8,"r":1,"v":0},{"c":9,"r":1,"v":0},{"c":10,"r":1,"v":1},{"c":11,"r":1,"v":0.03},{"c":12,"r":1,"v":0},{"c":13,"r":1,"v":0},{"c":14,"r":1,"v":0},{"c":15,"r":1,"v":0},
{"c":0,"r":2,"v":0},{"c":1,"r":2,"v":0},{"c":2,"r":2,"v":0.04},{"c":3,"r":2,"v":0},{"c":4,"r":2,"v":0},{"c":5,"r":2,"v":0},{"c":6,"r":2,"v":0.015},{"c":7,"r":2,"v":0.03},{"c":8,"r":2,"v":0},{"c":9,"r":2,"v":0},{"c":10,"r":2,"v":0.96},{"c":11,"r":2,"v":0},{"c":12,"r":2,"v":0},{"c":13,"r":2,"v":0.02},{"c":14,"r":2,"v":0},{"c":15,"r":2,"v":0},
{"c":0,"r":3,"v":0},{"c":1,"r":3,"v":0},{"c":2,"r":3,"v":0},{"c":3,"r":3,"v":0},{"c":4,"r":3,"v":0},{"c":5,"r":3,"v":0},{"c":6,"r":3,"v":0},{"c":7,"r":3,"v":0},{"c":8,"r":3,"v":0.015},{"c":9,"r":3,"v":0.98},{"c":10,"r":3,"v":0},{"c":11,"r":3,"v":0},{"c":12,"r":3,"v":0.025},{"c":13,"r":3,"v":0.015},{"c":14,"r":3,"v":0},{"c":15,"r":3,"v":0},
{"c":0,"r":4,"v":0.02},{"c":1,"r":4,"v":0},{"c":2,"r":4,"v":0},{"c":3,"r":4,"v":0},{"c":4,"r":4,"v":0.01},{"c":5,"r":4,"v":0},{"c":6,"r":4,"v":0},{"c":7,"r":4,"v":0.035},{"c":8,"r":4,"v":0},{"c":9,"r":4,"v":1},{"c":10,"r":4,"v":0},{"c":11,"r":4,"v":0.02},{"c":12,"r":4,"v":0},{"c":13,"r":4,"v":0},{"c":14,"r":4,"v":0},{"c":15,"r":4,"v":0},
{"c":0,"r":5,"v":0},{"c":1,"r":5,"v":0},{"c":2,"r":5,"v":0.01},{"c":3,"r":5,"v":0},{"c":4,"r":5,"v":0},{"c":5,"r":5,"v":0.01},{"c":6,"r":5,"v":0.01},{"c":7,"r":5,"v":0},{"c":8,"r":5,"v":1},{"c":9,"r":5,"v":0},{"c":10,"r":5,"v":0},{"c":11,"r":5,"v":0},{"c":12,"r":5,"v":0},{"c":13,"r":5,"v":0.02},{"c":14,"r":5,"v":0.02},{"c":15,"r":5,"v":0.025},
{"c":0,"r":6,"v":0},{"c":1,"r":6,"v":0},{"c":2,"r":6,"v":0},{"c":3,"r":6,"v":0},{"c":4,"r":6,"v":0},{"c":5,"r":6,"v":0.03},{"c":6,"r":6,"v":0},{"c":7,"r":6,"v":0.04},{"c":8,"r":6,"v":1},{"c":9,"r":6,"v":0},{"c":10,"r":6,"v":0},{"c":11,"r":6,"v":0.02},{"c":12,"r":6,"v":0.03},{"c":13,"r":6,"v":0.02},{"c":14,"r":6,"v":0},{"c":15,"r":6,"v":0},
{"c":0,"r":7,"v":0},{"c":1,"r":7,"v":0},{"c":2,"r":7,"v":0},{"c":3,"r":7,"v":0},{"c":4,"r":7,"v":0},{"c":5,"r":7,"v":0},{"c":6,"r":7,"v":0},{"c":7,"r":7,"v":0},{"c":8,"r":7,"v":0},{"c":9,"r":7,"v":0.035},{"c":10,"r":7,"v":0},{"c":11,"r":7,"v":0},{"c":12,"r":7,"v":0.035},{"c":13,"r":7,"v":0},{"c":14,"r":7,"v":0},{"c":15,"r":7,"v":0.015},
{"c":0,"r":8,"v":0},{"c":1,"r":8,"v":0},{"c":2,"r":8,"v":0},{"c":3,"r":8,"v":0},{"c":4,"r":8,"v":0},{"c":5,"r":8,"v":0},{"c":6,"r":8,"v":0},{"c":7,"r":8,"v":0},{"c":8,"r":8,"v":0.97},{"c":9,"r":8,"v":0},{"c":10,"r":8,"v":0},{"c":11,"r":8,"v":0},{"c":12,"r":8,"v":0},{"c":13,"r":8,"v":0},{"c":14,"r":8,"v":0.02},{"c":15,"r":8,"v":0.03},
{"c":0,"r":9,"v":0},{"c":1,"r":9,"v":0},{"c":2,"r":9,"v":0},{"c":3,"r":9,"v":0.025},{"c":4,"r":9,"v":0},{"c":5,"r":9,"v":0},{"c":6,"r":9,"v":0.02},{"c":7,"r":9,"v":0.045},{"c":8,"r":9,"v":0},{"c":9,"r":9,"v":0.01},{"c":10,"r":9,"v":0.01},{"c":11,"r":9,"v":0},{"c":12,"r":9,"v":0},{"c":13,"r":9,"v":0},{"c":14,"r":9,"v":0.02},{"c":15,"r":9,"v":0},
{"c":0,"r":10,"v":0},{"c":1,"r":10,"v":0},{"c":2,"r":10,"v":0},{"c":3,"r":10,"v":0},{"c":4,"r":10,"v":0},{"c":5,"r":10,"v":0.03},{"c":6,"r":10,"v":0.035},{"c":7,"r":10,"v":0.03},{"c":8,"r":10,"v":0},{"c":9,"r":10,"v":0.05},{"c":10,"r":10,"v":0},{"c":11,"r":10,"v":0},{"c":12,"r":10,"v":0},{"c":13,"r":10,"v":0.025},{"c":14,"r":10,"v":0},{"c":15,"r":10,"v":0},
{"c":0,"r":11,"v":0},{"c":1,"r":11,"v":0},{"c":2,"r":11,"v":0},{"c":3,"r":11,"v":0},{"c":4,"r":11,"v":0},{"c":5,"r":11,"v":0},{"c":6,"r":11,"v":0},{"c":7,"r":11,"v":0.02},{"c":8,"r":11,"v":0.035},{"c":9,"r":11,"v":0.01},{"c":10,"r":11,"v":0},{"c":11,"r":11,"v":0},{"c":12,"r":11,"v":0},{"c":13,"r":11,"v":0},{"c":14,"r":11,"v":0},{"c":15,"r":11,"v":0},
{"c":0,"r":12,"v":0.02},{"c":1,"r":12,"v":0},{"c":2,"r":12,"v":0},{"c":3,"r":12,"v":0},{"c":4,"r":12,"v":0},{"c":5,"r":12,"v":0.055},{"c":6,"r":12,"v":0},{"c":7,"r":12,"v":0},{"c":8,"r":12,"v":0},{"c":9,"r":12,"v":0.02},{"c":10,"r":12,"v":0},{"c":11,"r":12,"v":0.025},{"c":12,"r":12,"v":0},{"c":13,"r":12,"v":0},{"c":14,"r":12,"v":0},{"c":15,"r":12,"v":0},
{"c":0,"r":13,"v":0.015},{"c":1,"r":13,"v":0},{"c":2,"r":13,"v":0},{"c":3,"r":13,"v":0},{"c":4,"r":13,"v":0.02},{"c":5,"r":13,"v":0.02},{"c":6,"r":13,"v":0.035},{"c":7,"r":13,"v":0},{"c":8,"r":13,"v":0},{"c":9,"r":13,"v":0},{"c":10,"r":13,"v":0},{"c":11,"r":13,"v":0},{"c":12,"r":13,"v":0},{"c":13,"r":13,"v":0},{"c":14,"r":13,"v":0.02},{"c":15,"r":13,"v":0},
{"c":0,"r":14,"v":0},{"c":1,"r":14,"v":0.015},{"c":2,"r":14,"v":0.02},{"c":3,"r":14,"v":0},{"c":4,"r":14,"v":0},{"c":5,"r":14,"v":0},{"c":6,"r":14,"v":0},{"c":7,"r":14,"v":0.04},{"c":8,"r":14,"v":0.03},{"c":9,"r":14,"v":0},{"c":10,"r":14,"v":0},{"c":11,"r":14,"v":0.01},{"c":12,"r":14,"v":0},{"c":13,"r":14,"v":0},{"c":14,"r":14,"v":0.02},{"c":15,"r":14,"v":0.02},
{"c":0,"r":15,"v":0.025},{"c":1,"r":15,"v":0.01},{"c":2,"r":15,"v":0.01},{"c":3,"r":15,"v":0.01},{"c":4,"r":15,"v":0},{"c":5,"r":15,"v":0},{"c":6,"r":15,"v":0},{"c":7,"r":15,"v":0},{"c":8,"r":15,"v":0},{"c":9,"r":15,"v":0.03},{"c":10,"r":15,"v":0},{"c":11,"r":15,"v":0.01},{"c":12,"r":15,"v":0},{"c":13,"r":15,"v":0.02},{"c":14,"r":15,"v":0},{"c":15,"r":15,"v":0.025}
]},
"mark":{"type":"rect","strokeWidth":0.5},
"encoding":{
"x":{"field":"c","type":"ordinal","axis":null,"scale":{"paddingInner":0,"paddingOuter":0}},
"y":{"field":"r","type":"ordinal","axis":null,"scale":{"paddingInner":0,"paddingOuter":0}},
"fill":{"field":"v","type":"quantitative","legend":null,"scale":{"domain":[0,1],"range":["#000000","#ffffff"],"interpolate":"rgb"}},
"stroke":{"field":"v","type":"quantitative","legend":null,"scale":{"domain":[0,1],"range":["#000000","#ffffff"],"interpolate":"rgb"}}
}
}
]
}
